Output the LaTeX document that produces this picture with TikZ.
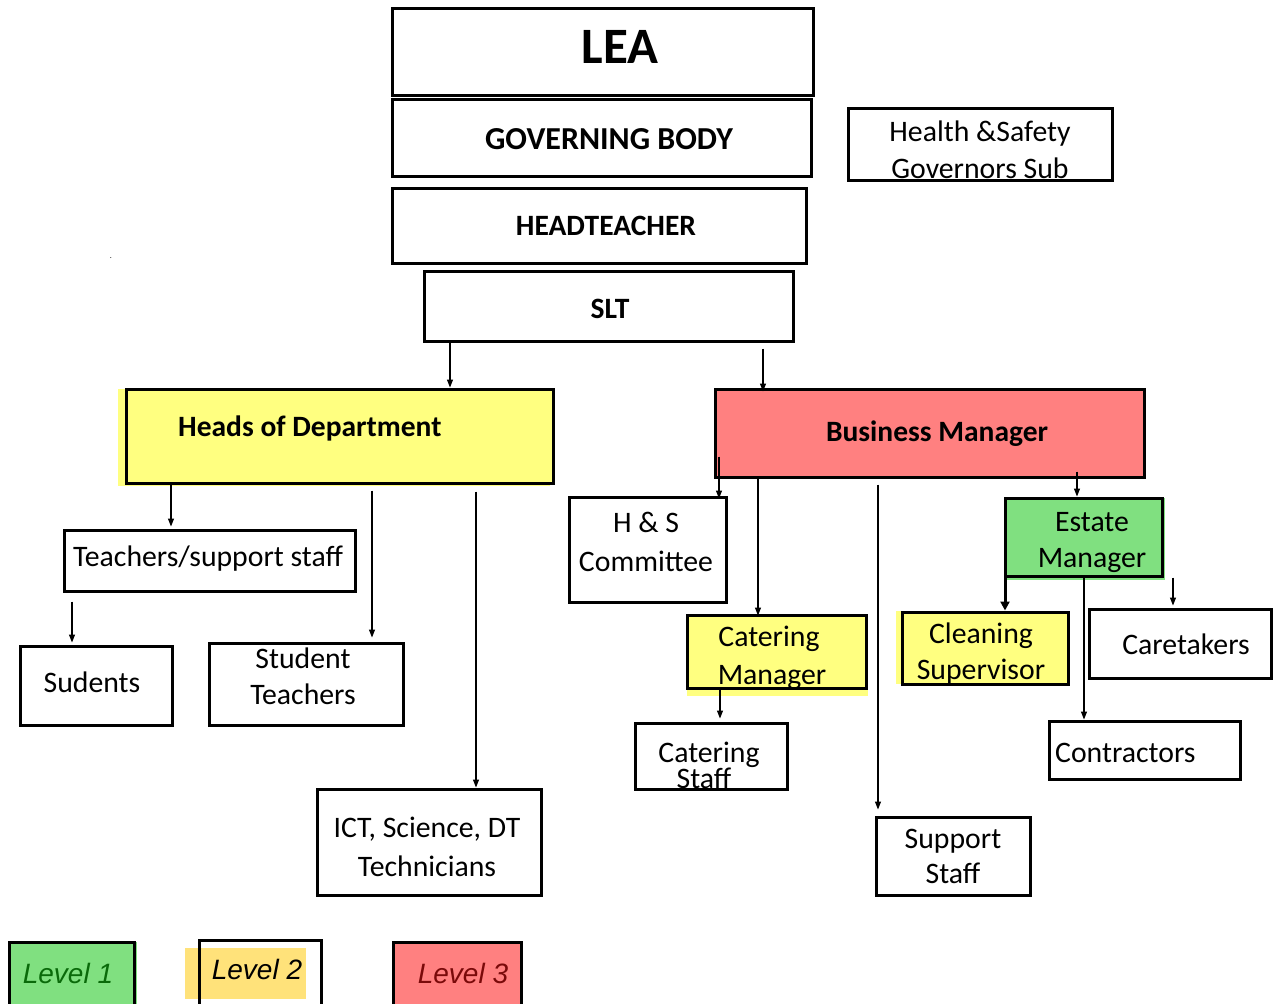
\documentclass[tikz,border=0pt]{standalone}
\usepackage{fontspec}
\setmainfont{Carlito}
\newfontfamily\arialf{Liberation Sans}
\usetikzlibrary{arrows.meta,calc}
\definecolor{cyel}{HTML}{FFFF80}
\definecolor{cred}{HTML}{FF8080}
\definecolor{cgrn}{HTML}{80E080}
\definecolor{lyel}{HTML}{FFE27A}
\definecolor{dgrn}{HTML}{0A6A0A}
\definecolor{dred}{HTML}{7A0A0A}
\begin{document}
\begin{tikzpicture}[x=1pt,y=-1pt,
  box/.style={draw,line width=3pt,inner sep=0pt},
  txt/.style={inner sep=0pt,text height=21pt,text depth=0pt,font=\fontsize{29.75}{34}\selectfont},
  btxt/.style={txt,font=\fontsize{29.5}{34}\selectfont\bfseries},
  lvl/.style={inner sep=0pt,text height=21pt,text depth=0pt,font=\fontsize{28}{32}\selectfont\arialf\itshape},
  arr/.style={line width=1.2pt,-{Triangle[length=8pt,width=6pt]}},
  bigarr/.style={line width=3pt,-{Triangle[length=9pt,width=9pt]}}
]
\useasboundingbox (0,0) rectangle (1275,1004);
% offset fills
\fill[cyel] (118,389) rectangle (550,486);
\fill[cyel] (687,615) rectangle (868,696);
\fill[cgrn] (1005,498) rectangle (1165,580);
\fill[cyel] (896,611) rectangle (1066,684);
\fill[cgrn] (9,942) rectangle (137,1004);
\fill[lyel] (185,948) rectangle (306,999);
\fill[cred] (395,942) rectangle (520,1004);
% boxes
\node[box,minimum width=421pt,minimum height=87pt] (lea) at (602.5,51.5) {};
\node[box,minimum width=419pt,minimum height=77pt] (gov) at (601.5,137.5) {};
\node[box,minimum width=414pt,minimum height=75pt] (head) at (599,225.5) {};
\node[box,minimum width=369pt,minimum height=70pt] (slt) at (608.5,306) {};
\node[box,minimum width=264pt,minimum height=72pt] (hs) at (980,144) {};
\node[box,fill=cyel,minimum width=427pt,minimum height=94pt] (hod) at (339.5,436) {};
\node[box,fill=cred,minimum width=429pt,minimum height=88pt] (bm) at (929.5,433) {};
\node[box,minimum width=291pt,minimum height=61pt] (teach) at (209.5,560.5) {};
\node[box,minimum width=152pt,minimum height=79pt] (sud) at (96,685.5) {};
\node[box,minimum width=194pt,minimum height=82pt] (stt) at (306,684) {};
\node[box,minimum width=224pt,minimum height=106pt] (ict) at (429,842) {};
\node[box,minimum width=157pt,minimum height=105pt] (hsc) at (647.5,549.5) {};
\node[box,fill=cyel,minimum width=179pt,minimum height=73pt] (catm) at (776.5,651.5) {};
\node[box,minimum width=152pt,minimum height=66pt] (cats) at (711,756) {};
\node[box,minimum width=154pt,minimum height=78pt] (sup) at (953,856) {};
\node[box,fill=cgrn,minimum width=157pt,minimum height=78pt] (est) at (1083.5,537) {};
\node[box,fill=cyel,minimum width=166pt,minimum height=72pt] (clean) at (985,648) {};
\node[box,minimum width=182pt,minimum height=69pt] (care) at (1180,643.5) {};
\node[box,minimum width=191pt,minimum height=58pt] (contr) at (1144.5,750) {};
\node[box,minimum width=125pt,minimum height=68pt] (lv1) at (71.5,976) {};
\node[box,minimum width=122pt,minimum height=70pt] (lv2) at (260,975) {};
\node[box,minimum width=128pt,minimum height=68pt] (lv3) at (457,976) {};
% texts
\node[inner sep=0pt,anchor=base,font=\fontsize{51}{56}\selectfont\bfseries] (leaT) at (620,63) {LEA};
\node[btxt,font=\fontsize{32}{36}\selectfont\bfseries] (govT) at (609,139) {GOVERNING BODY};
\node[btxt] (headT) at (606,225) {HEADTEACHER};
\node[btxt] (sltT) at (610,308) {SLT};
\node[txt] (hsT1) at (980,131) {Health \&Safety};
\node[txt] (hsT2) at (980,168) {Governors Sub};
\node[btxt,anchor=west] (hodT) at (178,426) {Heads of Department};
\node[btxt] (bmT) at (937,431) {Business Manager};
\node[txt] (teachT) at (208,556) {Teachers/support staff};
\node[txt] (sudT) at (92,682) {Sudents};
\node[txt] (sttT1) at (303,658) {Student};
\node[txt] (sttT2) at (303,694) {Teachers};
\node[txt] (ictT1) at (427,827) {ICT, Science, DT};
\node[txt] (ictT2) at (427,866) {Technicians};
\node[txt] (hscT1) at (646,522) {H \& S};
\node[txt] (hscT2) at (646,561) {Committee};
\node[txt] (catmT1) at (769,636) {Catering};
\node[txt] (catmT2) at (772,674) {Manager};
\node[txt] (catsT1) at (709,752) {Catering};
\node[txt] (catsT2) at (704,778) {Staff};
\node[txt] (supT1) at (953,838) {Support};
\node[txt] (supT2) at (953,873) {Staff};
\node[txt] (estT1) at (1092,521) {Estate};
\node[txt] (estT2) at (1092,557) {Manager};
\node[txt] (cleanT1) at (981,633) {Cleaning};
\node[txt] (cleanT2) at (981,669) {Supervisor};
\node[txt] (careT) at (1186,644) {Caretakers};
\node[txt,anchor=west] (contrT) at (1055,752) {Contractors};
\node[lvl,text=dgrn] (lv1T) at (68,973) {Level 1};
\node[lvl] (lv2T) at (257,969) {Level 2};
\node[lvl,text=dred] (lv3T) at (463,973) {Level 3};
\node[inner sep=0pt,font=\fontsize{8}{8}\selectfont] (dot) at (111,258) {.};
% connectors
\draw[arr] (slt.south -| 450,0) -- (hod.north -| 450,0);
\draw[arr] ($(slt.south -| 763,0)+(0,6)$) -- ($(bm.north -| 763,0)+(0,4)$);
\draw[arr] (hod.south -| 171,0) -- ($(teach.north -| 171,0)+(0,-2)$);
\draw[arr] ($(hod.south -| 372,0)+(0,6)$) -- ($(stt.north -| 372,0)+(0,-4)$);
\draw[arr] ($(hod.south -| 476,0)+(0,7)$) -- (ict.north -| 476,0);
\draw[arr] ($(teach.south -| 72,0)+(0,9)$) -- ($(sud.north -| 72,0)+(0,-2)$);
\draw[arr] ($(bm.south -| 719,0)+(0,-22)$) -- ($(hsc.north -| 719,0)+(0,3)$);
\draw[arr] (bm.south -| 758,0) -- ($(catm.north -| 758,0)+(0,2)$);
\draw[arr] ($(bm.south -| 878,0)+(0,6)$) -- ($(sup.north -| 878,0)+(0,-6)$);
\draw[arr] ($(bm.south -| 1077,0)+(0,-7)$) -- (est.north -| 1077,0);
\draw[arr] (catm.south -| 720,0) -- ($(cats.north -| 720,0)+(0,-3)$);
\draw[bigarr] (est.south -| 1005,0) -- (clean.north -| 1005,0);
\draw[arr] (est.south -| 1084,0) -- (contr.north -| 1084,0);
\draw[arr] (est.south -| 1173,0) -- ($(care.north -| 1173,0)+(0,-2)$);
\end{tikzpicture}
\end{document}
